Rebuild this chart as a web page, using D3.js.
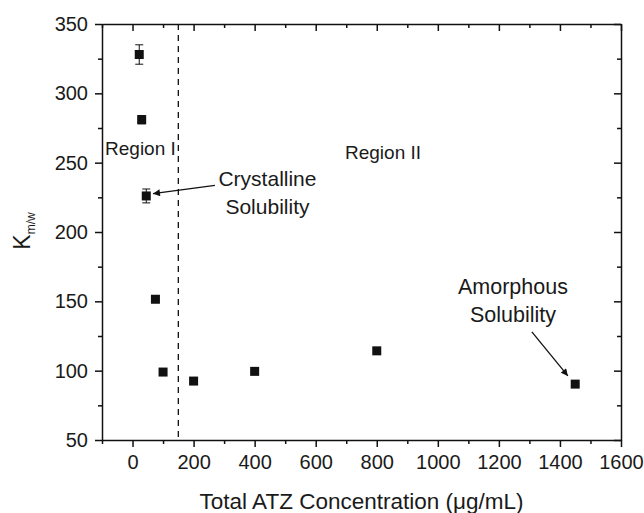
<!DOCTYPE html>
<html>
<head>
<meta charset="utf-8">
<script src="https://cdn.jsdelivr.net/npm/d3@7"></script>
<style>
body { margin: 0; background: #fff; }
text { font-family: "Liberation Sans", Arial, sans-serif; fill: #1a1a1a; }
</style>
</head>
<body>
<div id="chart"></div>
<script>
var concs = [22, 30, 45, 75, 100, 200, 400, 800, 1450];
var kmw = [328, 281, 226, 151.5, 99, 92.5, 99.5, 114.3, 90.3];
var errs = [7, 3, 5, 0, 0, 0, 0, 0, 0];
var xTicks = [0, 200, 400, 600, 800, 1000, 1200, 1400, 1600];
var yTicks = [50, 100, 150, 200, 250, 300, 350];
var dividerX = 150;

var W = 644, H = 513;
var margin = {top: 24, right: 23, bottom: 73, left: 102};
var w = W - margin.left - margin.right;
var h = H - margin.top - margin.bottom;

var x = d3.scaleLinear().domain([-100, 1600]).range([0, w]);
var y = d3.scaleLinear().domain([50, 350]).range([h, 0]);

var svg = d3.select("#chart").append("svg")
    .attr("width", W).attr("height", H);

svg.append("defs").append("marker")
    .attr("id", "arr")
    .attr("viewBox", "0 0 10 10")
    .attr("refX", 10).attr("refY", 5)
    .attr("markerWidth", 10).attr("markerHeight", 7)
    .attr("markerUnits", "userSpaceOnUse")
    .attr("orient", "auto")
    .append("path").attr("d", "M0,0 L10,5 L0,10 Z").attr("fill", "#111");

var g = svg.append("g").attr("transform", "translate(" + margin.left + "," + margin.top + ")");

// minor ticks
var xMinor = d3.range(-100, 1601, 100).filter(function(d) { return xTicks.indexOf(d) < 0; });
var yMinor = d3.range(75, 350, 50);

function styleAxis(sel) {
    sel.selectAll("path, line").attr("stroke", "#111").attr("stroke-width", 1.5);
    sel.selectAll("text").style("font-size", "20px").attr("fill", "#1a1a1a");
}

// bottom
g.append("g").attr("transform", "translate(0," + h + ")")
    .call(d3.axisBottom(x).tickValues(xTicks).tickSizeInner(7).tickSizeOuter(0).tickPadding(8).tickFormat(d3.format("d")))
    .call(styleAxis);
g.append("g").attr("transform", "translate(0," + h + ")")
    .call(d3.axisBottom(x).tickValues(xMinor).tickSize(4).tickFormat(""))
    .call(styleAxis).select(".domain").remove();
// top
g.append("g")
    .call(d3.axisTop(x).tickValues(xTicks).tickSizeInner(-7).tickSizeOuter(0).tickFormat(""))
    .call(styleAxis);
g.append("g")
    .call(d3.axisTop(x).tickValues(xMinor).tickSize(-4).tickFormat(""))
    .call(styleAxis).select(".domain").remove();
// left
g.append("g")
    .call(d3.axisLeft(y).tickValues(yTicks).tickSizeInner(7).tickSizeOuter(0).tickPadding(7))
    .call(styleAxis);
g.append("g")
    .call(d3.axisLeft(y).tickValues(yMinor).tickSize(4).tickFormat(""))
    .call(styleAxis).select(".domain").remove();
// right
g.append("g").attr("transform", "translate(" + w + ",0)")
    .call(d3.axisRight(y).tickValues(yTicks).tickSizeInner(-7).tickSizeOuter(0).tickFormat(""))
    .call(styleAxis);
g.append("g").attr("transform", "translate(" + w + ",0)")
    .call(d3.axisRight(y).tickValues(yMinor).tickSize(-4).tickFormat(""))
    .call(styleAxis).select(".domain").remove();

// divider
g.append("line")
    .attr("x1", x(dividerX)).attr("x2", x(dividerX))
    .attr("y1", 0).attr("y2", h)
    .attr("stroke", "#111").attr("stroke-width", 1.3)
    .attr("stroke-dasharray", "6,5");

var pts = concs.map(function(c, i) { return {x: c, y: kmw[i], e: errs[i]}; });

// error bars
var eb = g.selectAll(".eb").data(pts.filter(function(d) { return d.e > 0; })).enter().append("g");
eb.append("line")
    .attr("x1", function(d) { return x(d.x); }).attr("x2", function(d) { return x(d.x); })
    .attr("y1", function(d) { return y(d.y + d.e); }).attr("y2", function(d) { return y(d.y - d.e); })
    .attr("stroke", "#111").attr("stroke-width", 1);
[1, -1].forEach(function(s) {
    eb.append("line")
        .attr("x1", function(d) { return x(d.x) - 4; }).attr("x2", function(d) { return x(d.x) + 4; })
        .attr("y1", function(d) { return y(d.y + s * d.e); }).attr("y2", function(d) { return y(d.y + s * d.e); })
        .attr("stroke", "#111").attr("stroke-width", 1);
});

var sz = 9;
g.selectAll(".pt").data(pts).enter().append("rect")
    .attr("x", function(d) { return x(d.x) - sz / 2; })
    .attr("y", function(d) { return y(d.y) - sz / 2; })
    .attr("width", sz).attr("height", sz)
    .attr("fill", "#111");

// annotations (data units)
var labels = [
    {t: "Region I", x: -90, y: 255.3, a: "start", s: 19},
    {t: "Region II", x: 696, y: 253, a: "start", s: 19},
    {t: "Crystalline", x: 442, y: 233, a: "middle", s: 21},
    {t: "Solubility", x: 442, y: 213.3, a: "middle", s: 21},
    {t: "Amorphous", x: 1246, y: 155, a: "middle", s: 21.5},
    {t: "Solubility", x: 1246, y: 135.3, a: "middle", s: 21.5}
];
g.selectAll(".lbl").data(labels).enter().append("text")
    .attr("x", function(d) { return x(d.x); })
    .attr("y", function(d) { return y(d.y); })
    .attr("text-anchor", function(d) { return d.a; })
    .style("font-size", function(d) { return d.s + "px"; })
    .text(function(d) { return d.t; });

var arrows = [
    {x1: 270, y1: 233.6, x2: 67, y2: 227.6},
    {x1: 1308, y1: 128, x2: 1426, y2: 96.2}
];
g.selectAll(".arr").data(arrows).enter().append("line")
    .attr("x1", function(d) { return x(d.x1); }).attr("y1", function(d) { return y(d.y1); })
    .attr("x2", function(d) { return x(d.x2); }).attr("y2", function(d) { return y(d.y2); })
    .attr("stroke", "#111").attr("stroke-width", 1.3)
    .attr("marker-end", "url(#arr)");

// axis titles
svg.append("text")
    .attr("x", margin.left + x(750)).attr("y", 509)
    .attr("text-anchor", "middle")
    .style("font-size", "22.5px")
    .text("Total ATZ Concentration (\u03bcg/mL)");

var yl = svg.append("text")
    .attr("transform", "translate(30,231) rotate(-90)")
    .attr("text-anchor", "middle")
    .style("font-size", "23px");
yl.append("tspan").text("K");
yl.append("tspan").attr("dy", 5).style("font-size", "12px").text("m/w");
</script>
</body>
</html>
